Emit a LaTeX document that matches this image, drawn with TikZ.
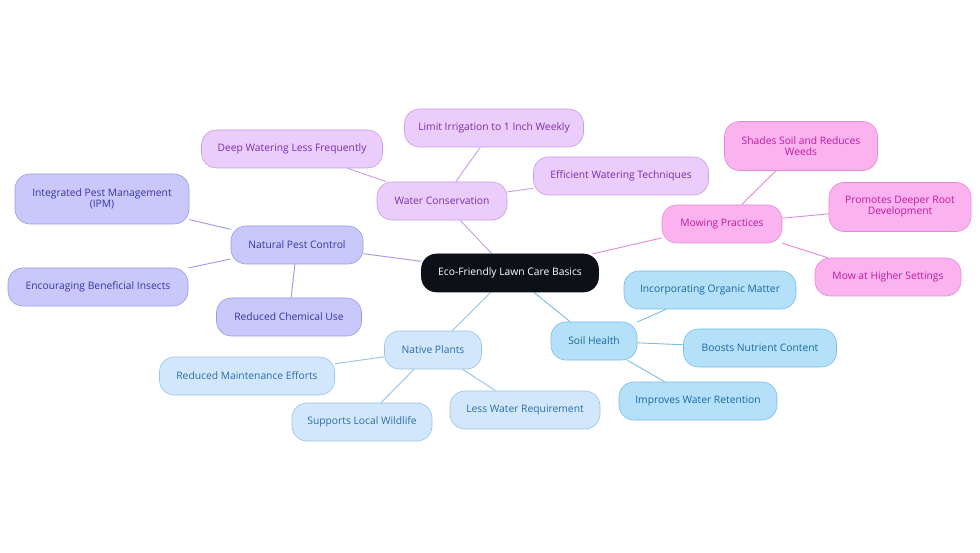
\documentclass[tikz,border=0pt]{standalone}
\usepackage{fontspec}
\setmainfont{Open Sans}
\usetikzlibrary{backgrounds}

\definecolor{rootfill}{HTML}{0D1117}
\definecolor{waterfill}{HTML}{EACDFB}
\definecolor{waterline}{HTML}{C69DE6}
\definecolor{watertext}{HTML}{7A2DAB}
\definecolor{pestfill}{HTML}{C8C9FA}
\definecolor{pestline}{HTML}{9A9AE2}
\definecolor{pesttext}{HTML}{3A34A2}
\definecolor{mowfill}{HTML}{FBB3F0}
\definecolor{mowline}{HTML}{E887D8}
\definecolor{mowtext}{HTML}{BE1A9C}
\definecolor{soilfill}{HTML}{B5E0FA}
\definecolor{soilline}{HTML}{79BCE4}
\definecolor{soiltext}{HTML}{17699F}
\definecolor{nativefill}{HTML}{D2E7FB}
\definecolor{nativeline}{HTML}{98C2E8}
\definecolor{nativetext}{HTML}{2A6DA8}

\tikzset{
  box/.style={rounded corners=15pt, minimum height=38pt, inner sep=2pt,
    font=\fontsize{10.3}{11}\selectfont, align=center, line width=0.6pt},
  rootbox/.style={box, fill=rootfill, draw=rootfill, text=white},
  waterbox/.style={box, fill=waterfill, draw=waterline, text=watertext},
  pestbox/.style={box, fill=pestfill, draw=pestline, text=pesttext},
  mowbox/.style={box, fill=mowfill, draw=mowline, text=mowtext},
  soilbox/.style={box, fill=soilfill, draw=soilline, text=soiltext},
  nativebox/.style={box, fill=nativefill, draw=nativeline, text=nativetext},
  link/.style={line width=0.9pt}
}

\begin{document}
\begin{tikzpicture}[x=1pt, y=-1pt]
  \useasboundingbox (0,0) rectangle (980,553);

  % centre
  \node[rootbox, minimum width=177pt] (root) at (510,273) {Eco-Friendly Lawn Care Basics};

  % water
  \node[waterbox, minimum width=130pt] (water) at (442,201) {Water Conservation};
  \node[waterbox, minimum width=181pt] (deep) at (292,149) {Deep Watering Less Frequently};
  \node[waterbox, minimum width=179pt] (limit) at (494,128) {Limit Irrigation to 1 Inch Weekly};
  \node[waterbox, minimum width=175pt] (efficient) at (621,176) {Efficient Watering Techniques};

  % pests
  \node[pestbox, minimum width=132pt] (pest) at (297,245) {Natural Pest Control};
  \node[pestbox, minimum width=174pt, minimum height=50pt] (ipm) at (102,199) {Integrated Pest Management\\(IPM)};
  \node[pestbox, minimum width=180pt] (insects) at (98,287) {Encouraging Beneficial Insects};
  \node[pestbox, minimum width=145pt] (chemical) at (289,317) {Reduced Chemical Use};

  % mowing
  \node[mowbox, minimum width=120pt] (mow) at (722,224) {Mowing Practices};
  \node[mowbox, minimum width=153pt, minimum height=49pt] (shade) at (801,146) {Shades Soil and Reduces\\Weeds};
  \node[mowbox, minimum width=142pt, minimum height=49pt] (root2) at (900,207) {Promotes Deeper Root\\Development};
  \node[mowbox, minimum width=146pt] (higher) at (888,277) {Mow at Higher Settings};

  % soil
  \node[soilbox, minimum width=86pt] (soil) at (594,341) {Soil Health};
  \node[soilbox, minimum width=172pt] (organic) at (710,290) {Incorporating Organic Matter};
  \node[soilbox, minimum width=153pt] (nutrient) at (760,348) {Boosts Nutrient Content};
  \node[soilbox, minimum width=158pt] (retention) at (698,401) {Improves Water Retention};

  % native
  \node[nativebox, minimum width=97pt] (native) at (433,350) {Native Plants};
  \node[nativebox, minimum width=175pt] (maint) at (247,376) {Reduced Maintenance Efforts};
  \node[nativebox, minimum width=140pt] (wildlife) at (362,422) {Supports Local Wildlife};
  \node[nativebox, minimum width=150pt] (lesswater) at (525,410) {Less Water Requirement};

  \begin{pgfonlayer}{background}
    \draw[link, waterline] (root) -- (water);
    \foreach \n in {deep, limit, efficient} \draw[link, waterline] (water) -- (\n);
    \draw[link, pestline] (root) -- (pest);
    \foreach \n in {ipm, insects, chemical} \draw[link, pestline] (pest) -- (\n);
    \draw[link, mowline] (root) -- (mow);
    \foreach \n in {shade, root2, higher} \draw[link, mowline] (mow) -- (\n);
    \draw[link, soilline] (root) -- (soil);
    \foreach \n in {organic, nutrient, retention} \draw[link, soilline] (soil) -- (\n);
    \draw[link, nativeline] (root) -- (native);
    \foreach \n in {maint, wildlife, lesswater} \draw[link, nativeline] (native) -- (\n);
  \end{pgfonlayer}
\end{tikzpicture}
\end{document}
